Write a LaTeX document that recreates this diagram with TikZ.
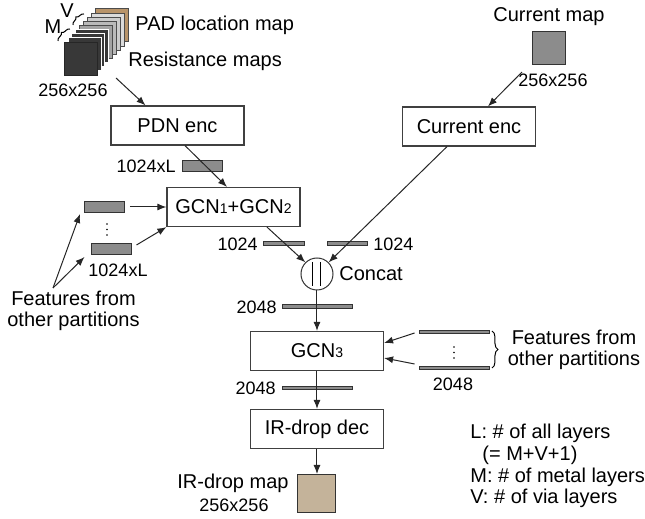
\documentclass[tikz,border=0pt]{standalone}
\usepackage{fontspec}
\setmainfont{Liberation Sans}
\usetikzlibrary{arrows.meta,decorations.pathreplacing}

\definecolor{padbrown}{HTML}{B8946A}
\definecolor{irtan}{HTML}{C4B39A}

\tikzset{
  block/.style={draw=black!75, line width=0.6pt, minimum width=66.5pt, minimum height=19.5pt, inner sep=0pt, font=\fontsize{10}{12}\selectfont},
  flow/.style={-{Latex[length=4.5pt,width=3.5pt]}, line width=0.5pt, black!85},
  dim/.style={font=\fontsize{9}{10}\selectfont, inner sep=0pt},
  txt/.style={font=\fontsize{10}{10.8}\selectfont, inner sep=0pt},
  featbar/.style={fill=black!45, draw=black!80, line width=0.5pt, minimum width=20pt, minimum height=5.5pt, inner sep=0pt},
  thinbar/.style={fill=black!45, draw=black!80, line width=0.4pt, minimum height=1.8pt, inner sep=0pt},
  brc/.style={decorate, decoration={brace, amplitude=#1}, line width=0.5pt},
}

\begin{document}
\begin{tikzpicture}[x=0.5pt, y=-0.5pt]
  \useasboundingbox (0,0) rectangle (645,519);

  % Stack of input maps (PAD map at the back, metal maps in front)
  \foreach \i/\col/\edge in {8/padbrown/black!70, 7/black!14/black!70, 6/black!20/black!70,
      5/black!27/black!70, 4/black!36/black!70, 3/black!78/white, 2/black!78/white,
      1/black!78/white, 0/black!78/black!85}
    \filldraw[fill=\col, draw=\edge, line width=0.4pt] (64+3.95*\i, 42-4.15*\i) rectangle ++(33,33);

  \draw[brc=1.8pt] (58,41) -- (70,29);
  \draw[brc=1.8pt] (73,25) -- (84,14);
  \node[txt] (lblM) at (53,27) {M};
  \node[txt] (lblV) at (67,11) {V};

  \node[txt, anchor=west] (padlbl) at (135,25) {PAD location map};
  \node[txt, anchor=west] (reslbl) at (128,61) {Resistance maps};
  \node[dim] (ressize) at (73,90) {256x256};

  % Current map
  \node[txt] (curlbl) at (549,17) {Current map};
  \node[fill=black!45, draw=black!80, line width=0.5pt, minimum size=16.5pt, inner sep=0pt] (curmap) at (549.5,48.5) {};
  \node[dim] (cursize) at (553,80) {256x256};

  % Encoders
  \node[block] (pdn) at (177.5,125.5) {PDN enc};
  \node[block] (curenc) at (469,126.5) {Current enc};

  \coordinate (resout) at (116,78);
  \coordinate (curout) at (522,72);
  \draw[flow] (resout) -- ([xshift=-16pt]pdn.north);
  \draw[flow] (curout) -- ([xshift=9.5pt]curenc.north);

  % PDN features into GCN1+GCN2
  \node[featbar] (pdnfeat) at (203,166.5) {};
  \node[dim, anchor=east] (pdnfeatlbl) at (176,166) {1024xL};
  \node[block] (gcn) at (233.5,207) {GCN{\scriptsize 1}+GCN{\scriptsize 2}};
  \draw[flow] ([xshift=3.75pt]pdn.south) -- ([xshift=-3.25pt]gcn.north);

  % Features from other partitions (left)
  \node[featbar] (ofa) at (104.5,207) {};
  \node[featbar] (ofb) at (112,249) {};
  \foreach \d in {224,229.5,235}
    \fill (107,\d) circle (0.45pt);
  \node[dim] (ofblbl) at (118,270) {1024xL};
  \draw[flow] ([xshift=2.5pt]ofa.east) -- (gcn.west);
  \draw[flow] ([shift={(2pt,-1pt)}]ofb.north east) -- (gcn.south west);

  \node[txt, align=center] (otherl) at (73.5,311) {Features from\\other partitions};
  \coordinate (otherltip) at (53,288);
  \draw[flow] (otherltip) -- ([shift={(-2pt,-0.5pt)}]ofa.south west);
  \draw[flow] (otherltip) -- ([shift={(-3.5pt,-1pt)}]ofb.south west);

  % Concat
  \node[circle, draw=black!80, line width=0.5pt, minimum size=16pt, inner sep=0pt] (concat) at (317,274) {};
  \draw[line width=0.5pt] ([shift={(-2pt,6pt)}]concat.center) -- ([shift={(-2pt,-6pt)}]concat.center);
  \draw[line width=0.5pt] ([shift={(2pt,6pt)}]concat.center) -- ([shift={(2pt,-6pt)}]concat.center);
  \node[txt, anchor=west] (concatlbl) at (339,274) {Concat};

  \node[thinbar, minimum width=20.5pt] (gcnout) at (283.5,243.5) {};
  \node[dim, anchor=east] (gcnoutlbl) at (258,244) {1024};
  \node[thinbar, minimum width=20pt] (curfeat) at (347,243.5) {};
  \node[dim, anchor=west] (curfeatlbl) at (373,244) {1024};
  \draw[flow] ([xshift=16.75pt]gcn.south) -- (concat.135);
  \draw[flow] ([xshift=-11pt]curenc.south) -- (concat.45);

  % GCN3
  \node[thinbar, minimum width=35pt] (catout) at (317,306.5) {};
  \node[dim, anchor=east] (catoutlbl) at (277,307) {2048};
  \node[block] (gcn3) at (317,351) {GCN{\scriptsize 3}};
  \draw[flow] (concat.south) -- (gcn3.north);

  % Features from other partitions (right)
  \node[thinbar, minimum width=35pt] (ora) at (454,332) {};
  \node[thinbar, minimum width=35pt] (orb) at (454,368) {};
  \foreach \d in {347,352.5,358}
    \fill (454,\d) circle (0.45pt);
  \node[dim] (orlbl) at (453,384) {2048};
  \draw[flow] ([shift={(-2pt,-0.5pt)}]ora.west) -- ([yshift=4pt]gcn3.east);
  \draw[flow] ([shift={(-2pt,2pt)}]orb.west) -- ([yshift=-3.5pt]gcn3.east);
  \draw[brc=3pt] (492,331) -- (492,368);
  \node[txt, align=center] (otherr) at (574,350) {Features from\\other partitions};

  % Decoder
  \node[thinbar, minimum width=35pt] (gcn3out) at (317,388) {};
  \node[dim, anchor=east] (gcn3outlbl) at (276,388) {2048};
  \node[block] (dec) at (317,429) {IR-drop dec};
  \draw[flow] (gcn3.south) -- (dec.north);
  \node[fill=irtan, draw=black!80, line width=0.5pt, minimum size=19pt, inner sep=0pt] (irmap) at (317,493.5) {};
  \draw[flow] (dec.south) -- (irmap.north);
  \node[txt] (irlbl) at (233,483) {IR-drop map};
  \node[dim] (irsize) at (234,505) {256x256};

  % Legend
  \node[txt, anchor=north west, align=left] (legend) at (470,424)
    {L: \# of all layers\\\hspace{6pt}(= M+V+1)\\M: \# of metal layers\\V: \# of via layers};
\end{tikzpicture}
\end{document}
